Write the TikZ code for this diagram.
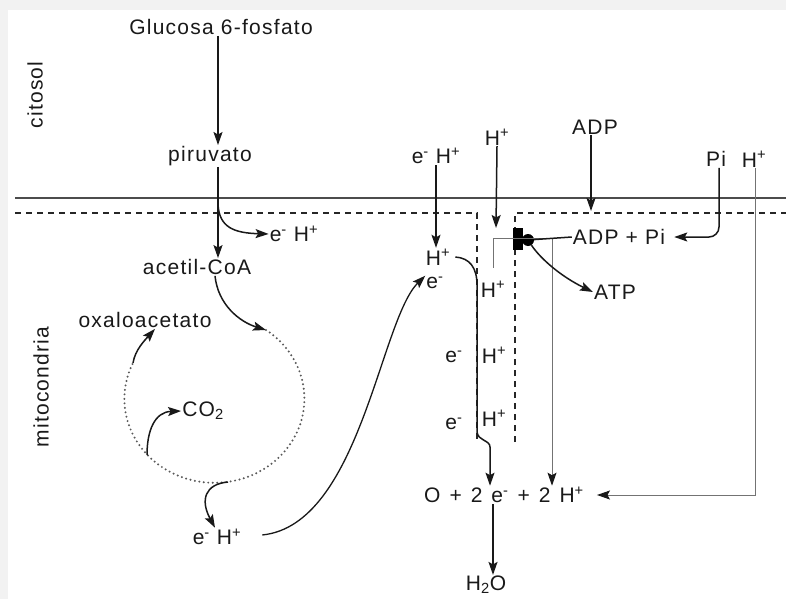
\documentclass[tikz,border=0pt]{standalone}
\usepackage{fontspec}
\setmainfont{Liberation Sans}[LetterSpace=6]
\usetikzlibrary{arrows.meta,positioning}
\newcommand{\hplus}{H\textsuperscript{+}}
\newcommand{\elec}{e\textsuperscript{-}}
\newcommand{\wsp}{\hspace{9pt}}
\tikzset{
lbl/.style={inner sep=1pt,font=\fontsize{21}{23}\selectfont,text=black!90},
sidelbl/.style={lbl,rotate=90},
flowarr/.style={line width=1.5pt,black!90,-{Stealth[length=13pt,width=9pt,inset=2.5pt]}},
thinarr/.style={line width=1pt,black!55,-{Stealth[length=13pt,width=9pt,inset=2.5pt,color=black!90]}},
membr/.style={line width=1.6pt,black!70},
crista/.style={line width=1.4pt,black!85,dash pattern=on 6pt off 5pt},
krebs/.style={line width=2.2pt,black!65,line cap=round,dash pattern=on 0pt off 4.5pt}
}
\begin{document}
\begin{tikzpicture}[x=1pt,y=-1pt]
\fill[black!5] (0,0) rectangle (786,599);
\fill[white] (8,10) rectangle (786,599);
\useasboundingbox (0,0) rectangle (786,599);

% membranes
\draw[membr] (15,198) -- (786,198);
\draw[crista] (15,213) -- (477,213) -- (477,442);
\draw[crista] (515,442) -- (515,213) -- (786,213);

% labels
\node[sidelbl] (cit) at (35,95) {citosol};
\node[sidelbl] (mito) at (41,387) {mitocondria};
\node[lbl] (gluc) at (221,27) {Glucosa 6-fosfato};
\node[lbl] (piru) at (210,156) {piruvato};
\node[lbl] (acet) at (197,267) {acetil-CoA};
\node[lbl] (ehA) at (294,234) {\elec\ \hplus};
\node[lbl] (oxa) at (145,320) {oxaloacetato};
\node[lbl] (co2) at (203,411) {CO\textsubscript{2}};
\node[lbl] (ehB) at (217,537) {\elec\ \hplus};
\node[lbl] (ehC) at (436,156) {\elec\ \hplus};
\node[lbl] (hpA) at (438,257) {\hplus};
\node[lbl] (elA) at (435,283) {\elec};
\node[lbl] (hpB) at (497,137) {\hplus};
\node[lbl] (adp) at (595,127) {ADP};
\node[lbl] (adppi) at (619,237) {ADP + Pi};
\node[lbl] (atp) at (615,292) {ATP};
\node[lbl] (pi) at (716,159) {Pi};
\node[lbl] (hpC) at (754,159) {\hplus};
\node[lbl] (hpD) at (493,289) {\hplus};
\node[lbl] (elB) at (454,357) {\elec};
\node[lbl] (hpE) at (494,355) {\hplus};
\node[lbl] (elC) at (454,424) {\elec};
\node[lbl] (hpF) at (494,418) {\hplus};
\node[lbl] (oxy) at (504,495) {O\wsp+\wsp2\wsp e\textsuperscript{-}\wsp+\wsp2\wsp H\textsuperscript{+}};
\node[lbl] (water) at (486,585) {H\textsubscript{2}O};

% ATP synthase
\node[fill=black,minimum width=10pt,minimum height=22pt,inner sep=0pt] (synth) at (518,239) {};
\node[circle,fill=black,minimum size=12pt,inner sep=0pt] (rotor) at (528,240) {};

\coordinate (br) at (218,204);
\coordinate (cycTR) at (266,330);
\coordinate (cycL) at (133,363);
\coordinate (cycCO) at (147,455);
\coordinate (cycB) at (228,482);
\coordinate (hTip) at (496,228);
\coordinate (adpTip) at (591,211);
\coordinate (atpR) at (552,238);
\coordinate (eBot) at (490,447);

% glycolysis and pyruvate
\draw[flowarr] ([xshift=-3pt]gluc.south) -- ([xshift=8pt]piru.north);
\draw[flowarr] ([xshift=8pt]piru.south) -- ([xshift=21pt]acet.north);
\draw[flowarr] (br) .. controls (219,228) and (235,233) .. (ehA.west);

% Krebs cycle
\draw[flowarr] ([xshift=18pt]acet.south) .. controls (218,305) and (240,322) .. (cycTR);
\draw[krebs] (cycTR) arc[start angle=-55,end angle=205,x radius=90,y radius=84];
\draw[flowarr] (cycL) .. controls (135,350) and (145,340) .. ([xshift=10pt]oxa.south);
\draw[flowarr] (cycCO) .. controls (147,430) and (155,412) .. (co2.west);
\draw[flowarr] (cycB) .. controls (205,484) and (200,500) .. ([xshift=-2pt]ehB.north);

% electron transport
\draw[line width=1.3pt,black!90,-{Stealth[length=13pt,width=9pt,inset=2.5pt]},shorten <=20pt]
  (ehB.east) .. controls (360,525) and (380,320) .. (elA.north west);
\draw[flowarr] (ehC.south) -- (ehC.south |- hpA.north);
\draw[flowarr] ([xshift=4pt]hpA.east) .. controls (470,258) and (477,268) .. (477,285)
  -- (477,432) .. controls (478,441) and (490,440) .. (eBot) -- (eBot |- oxy.north);
\draw[flowarr] (hpB.south) -- (hTip);

% ATP synthesis
\draw[thinarr] ([yshift=12pt]hpD.north) |- (atpR) -- (atpR |- oxy.north);
\draw[line width=1.5pt,black!90] (adppi.west) -- (rotor);
\draw[flowarr] (rotor) .. controls (540,258) and (560,276) .. (atp.west);
\draw[flowarr] ([xshift=-4pt]adp.south) -- (adpTip);
\draw[flowarr,rounded corners=10pt,shorten >=8pt] ([xshift=3pt]pi.south) |- (adppi.east);
\draw[thinarr,shorten >=12pt] ([xshift=1pt]hpC.south) |- (oxy.east);
\draw[flowarr] ([xshift=-11pt]oxy.south) -- ([xshift=7pt]water.north);
\end{tikzpicture}
\end{document}
